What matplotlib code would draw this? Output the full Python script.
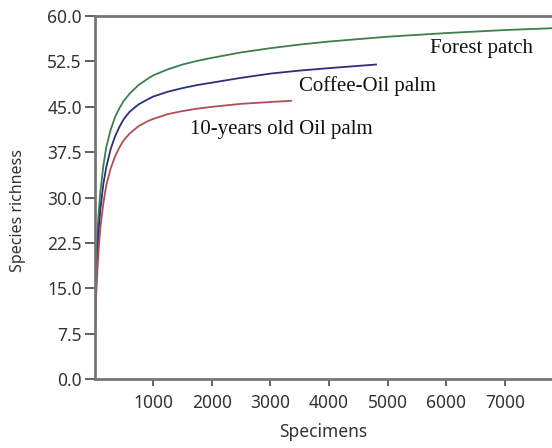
import matplotlib
matplotlib.use("Agg")
import matplotlib.pyplot as plt

# rarefaction curves
forest_n = [1, 10, 25, 50, 75, 100, 150, 200, 275, 350, 425, 500, 600, 750, 900, 1000,
            1250, 1500, 1750, 2000, 2500, 3000, 3500, 4000, 5000, 6000, 7000, 7800]
forest_s = [1, 9, 17, 24, 28, 31, 35.2, 38.3, 41.2, 43.3, 44.8, 46.0, 47.2, 48.6, 49.6, 50.2,
            51.2, 52.0, 52.6, 53.1, 54.0, 54.7, 55.3, 55.8, 56.6, 57.2, 57.7, 58.0]

coffee_n = [1, 10, 25, 50, 75, 100, 150, 200, 275, 350, 425, 500, 600, 750, 900, 1000,
            1250, 1500, 1750, 2000, 2500, 3000, 3500, 4000, 4800]
coffee_s = [1, 8, 15, 21, 25, 28, 32.2, 35.0, 38.0, 40.1, 41.7, 43.0, 44.2, 45.4, 46.2, 46.7,
            47.5, 48.1, 48.6, 49.0, 49.8, 50.5, 51.0, 51.4, 52.0]

oilpalm_n = [1, 10, 25, 50, 75, 100, 150, 200, 275, 350, 425, 500, 600, 750, 900, 1000,
             1250, 1500, 1750, 2000, 2500, 3000, 3350]
oilpalm_s = [1, 7, 13, 18, 22, 25, 29.0, 32.0, 34.8, 36.8, 38.3, 39.5, 40.6, 41.8, 42.6, 43.0,
             43.8, 44.3, 44.7, 45.0, 45.5, 45.8, 46.0]

y_ticks = [0, 7.5, 15, 22.5, 30, 37.5, 45, 52.5, 60]
x_ticks = [1000, 2000, 3000, 4000, 5000, 6000, 7000]

fig = plt.figure(figsize=(5.52, 4.48), dpi=100)
ax = fig.add_axes([0.1712, 0.154, 0.8288, 0.81])

ax.plot(forest_n, forest_s, color="#3d7f4d", lw=1.3)
ax.plot(coffee_n, coffee_s, color="#2c2f7e", lw=1.3)
ax.plot(oilpalm_n, oilpalm_s, color="#b04e58", lw=1.3)

serif = dict(family="Liberation Serif", fontsize=15, color="#111111", va="center")
ax.text(5720, 54.7, "Forest patch", **serif)
ax.text(3480, 48.4, "Coffee-Oil palm", **serif)
ax.text(1625, 41.2, "10-years old Oil palm", **serif)

ax.set_xlim(0, 7800)
ax.set_ylim(0, 60)
ax.set_xticks(x_ticks)
ax.set_yticks(y_ticks)
ax.set_yticklabels(["%.1f" % v for v in y_ticks])

for side in ["left", "bottom", "top"]:
    ax.spines[side].set_color("#767676")
    ax.spines[side].set_linewidth(2)
ax.spines["right"].set_visible(False)

ax.tick_params(axis="y", length=7, width=1.3, color="#555555", pad=2,
               labelsize=12.5, labelcolor="#333333")
ax.tick_params(axis="x", length=5, width=1.3, color="#555555", pad=6,
               labelsize=12.5, labelcolor="#333333")
for lab in ax.get_xticklabels() + ax.get_yticklabels():
    lab.set_family("Noto Sans")

ax.set_xlabel("Specimens", family="Noto Sans", fontsize=12.5, color="#333333")
ax.set_ylabel("Species richness", family="Noto Sans", fontsize=11.5, color="#333333")
ax.xaxis.set_label_coords(0.5, -0.12)
ax.yaxis.set_label_coords(-0.15, 0.465)

fig.savefig("out.png", dpi=100)
plt.close()
